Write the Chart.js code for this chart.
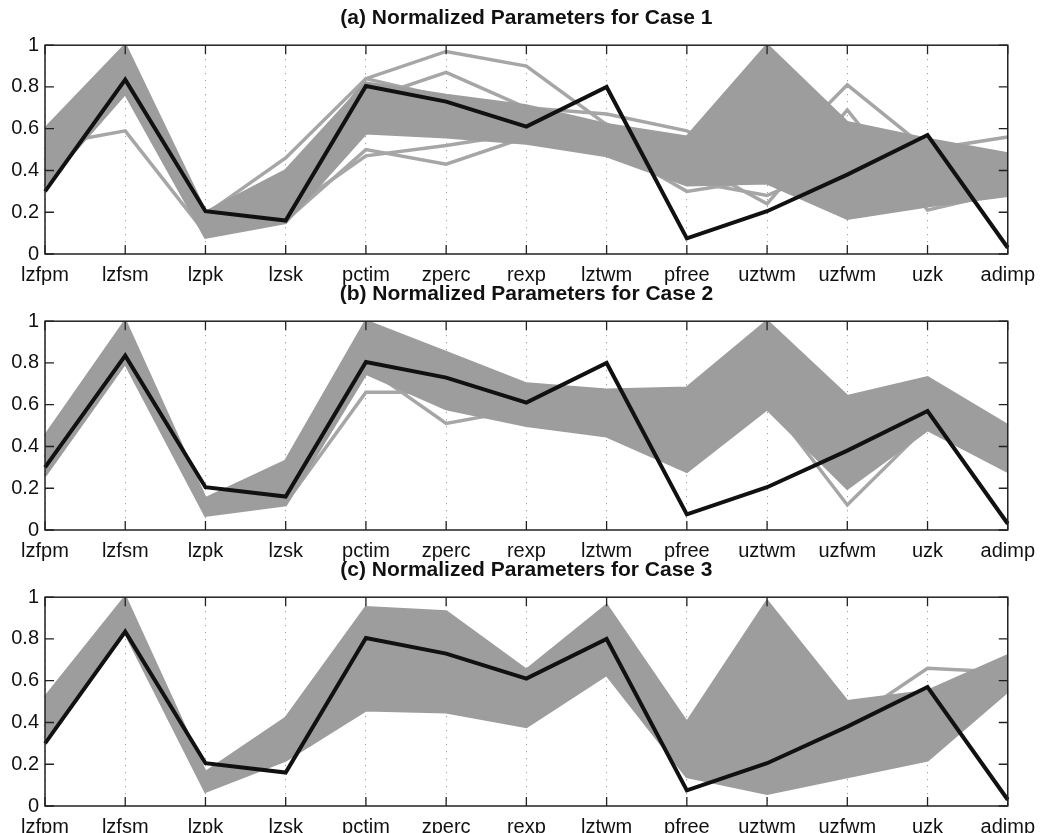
<!DOCTYPE html>
<html>
<head>
<meta charset="utf-8">
<script src="https://cdn.jsdelivr.net/npm/chart.js@4"></script>
<style>
  html, body { margin: 0; padding: 0; background: #fff; overflow: hidden; }
  #wrap { position: relative; width: 1044px; height: 833px; }
  canvas { position: absolute; left: 0; }
</style>
</head>
<body>
<div id="wrap">
  <canvas id="case1" width="1044" height="290" style="top:0px"></canvas>
  <canvas id="case2" width="1044" height="290" style="top:276px"></canvas>
  <canvas id="case3" width="1044" height="290" style="top:552px"></canvas>
</div>
<script>
// parameter names along the x axis
const params = ['lzfpm', 'lzfsm', 'lzpk', 'lzsk', 'pctim', 'zperc', 'rexp', 'lztwm', 'pfree', 'uztwm', 'uzfwm', 'uzk', 'adimp'];
const yTicks = [0, 0.2, 0.4, 0.6, 0.8, 1];

// black line (same in every panel)
const bestSet = [0.30, 0.835, 0.205, 0.16, 0.805, 0.73, 0.61, 0.80, 0.075, 0.205, 0.38, 0.57, 0.03];

const case1Upper = [0.60, 1.00, 0.20, 0.40, 0.82, 0.76, 0.71, 0.62, 0.56, 1.00, 0.63, 0.55, 0.48];
const case1Lower = [0.33, 0.77, 0.08, 0.15, 0.58, 0.56, 0.53, 0.47, 0.33, 0.34, 0.17, 0.23, 0.28];
const case1Stray = [
  [0.52, 0.59, 0.10, 0.16, 0.50, 0.43, 0.56, 0.50, 0.35, 0.28, 0.45, 0.40, 0.35],
  [0.45, 0.88, 0.15, 0.30, 0.84, 0.97, 0.90, 0.62, 0.50, 0.55, 0.60, 0.45, 0.40],
  [0.50, 0.90, 0.12, 0.22, 0.74, 0.87, 0.70, 0.67, 0.59, 0.42, 0.81, 0.50, 0.56],
  [0.55, 0.80, 0.19, 0.46, 0.84, 0.75, 0.65, 0.55, 0.45, 0.24, 0.69, 0.21, 0.30],
  [0.40, 0.85, 0.10, 0.20, 0.47, 0.52, 0.58, 0.52, 0.30, 0.36, 0.55, 0.30, 0.44]
];

const case2Upper = [0.45, 1.00, 0.15, 0.33, 1.00, 0.85, 0.70, 0.67, 0.68, 1.00, 0.64, 0.73, 0.50];
const case2Lower = [0.26, 0.80, 0.07, 0.12, 0.75, 0.58, 0.50, 0.45, 0.28, 0.58, 0.20, 0.48, 0.28];
const case2Stray = [
  [0.30, 0.82, 0.08, 0.13, 0.66, 0.66, 0.55, 0.66, 0.50, 0.62, 0.12, 0.50, 0.45],
  [0.35, 0.88, 0.10, 0.20, 0.78, 0.51, 0.58, 0.62, 0.55, 0.66, 0.58, 0.55, 0.40]
];

const case3Upper = [0.52, 1.00, 0.16, 0.42, 0.95, 0.93, 0.65, 0.96, 0.40, 0.98, 0.50, 0.55, 0.72];
const case3Lower = [0.33, 0.83, 0.07, 0.22, 0.46, 0.45, 0.38, 0.63, 0.14, 0.06, 0.14, 0.22, 0.55];
const case3Stray = [
  [0.38, 0.88, 0.10, 0.28, 0.55, 0.50, 0.45, 0.70, 0.30, 0.60, 0.40, 0.66, 0.64]
];

const FONT = "'Liberation Sans', Arial, Helvetica, sans-serif";
const cloudGrey = '#9d9d9d';
const strayGrey = '#a6a6a6';

// MATLAB-like box with inward tick marks
const boxPlugin = {
  id: 'box',
  afterDatasetsDraw(chart) {
    const { ctx, chartArea: a, scales } = chart;
    const tl = 9;
    ctx.save();
    ctx.strokeStyle = '#222';
    ctx.lineWidth = 1.5;
    ctx.strokeRect(a.left, a.top, a.right - a.left, a.bottom - a.top);
    ctx.lineWidth = 1.3;
    ctx.beginPath();
    scales.x.ticks.forEach((t, i) => {
      const x = scales.x.getPixelForTick(i);
      ctx.moveTo(x, a.bottom); ctx.lineTo(x, a.bottom - tl);
      ctx.moveTo(x, a.top); ctx.lineTo(x, a.top + tl);
    });
    yTicks.forEach(v => {
      const y = scales.y.getPixelForValue(v);
      ctx.moveTo(a.left, y); ctx.lineTo(a.left + tl, y);
      ctx.moveTo(a.right, y); ctx.lineTo(a.right - tl, y);
    });
    ctx.stroke();
    ctx.restore();
  }
};

function makePanel(id, title, upper, lower, strays) {
  const datasets = [];
  datasets.push({
    data: bestSet, borderColor: '#111', borderWidth: 4,
    pointRadius: 0, fill: false, order: 0, borderJoinStyle: 'miter'
  });
  // stray runs sit under the cloud, only the parts outside it show
  strays.forEach(s => datasets.push({
    data: s, borderColor: strayGrey, borderWidth: 3.5,
    pointRadius: 0, fill: false, order: 3
  }));
  datasets.push({
    data: lower, borderColor: cloudGrey, borderWidth: 3,
    pointRadius: 0, fill: false, order: 2
  });
  datasets.push({
    data: upper, borderColor: cloudGrey, borderWidth: 3,
    backgroundColor: cloudGrey, pointRadius: 0, fill: '-1', order: 2
  });

  new Chart(document.getElementById(id), {
    type: 'line',
    data: { labels: params, datasets: datasets },
    options: {
      responsive: false,
      animation: false,
      devicePixelRatio: 1,
      layout: { padding: { left: 0, right: 36, top: 0, bottom: 0 } },
      plugins: {
        legend: { display: false },
        tooltip: { enabled: false },
        title: {
          display: true,
          text: title,
          fullSize: false,
          color: '#111',
          font: { family: FONT, size: 21, weight: 'bold' },
          padding: { top: 6, bottom: 14 }
        }
      },
      scales: {
        x: {
          offset: false,
          grid: { color: '#8a8a8a', lineWidth: 1, drawTicks: false },
          border: { display: false, dash: [1, 6] },
          ticks: {
            color: '#111', padding: 9, autoSkip: false, maxRotation: 0,
            font: { family: FONT, size: 20 }
          },
          afterFit: s => { s.height = 36; }
        },
        y: {
          min: 0, max: 1,
          grid: { display: false, drawTicks: false },
          border: { display: false },
          afterBuildTicks: s => { s.ticks = yTicks.map(v => ({ value: v })); },
          ticks: {
            color: '#111', padding: 6,
            font: { family: FONT, size: 20 },
            callback: v => String(v)
          },
          afterFit: s => { s.width = 45; }
        }
      }
    },
    plugins: [boxPlugin]
  });
}

makePanel('case1', '(a) Normalized Parameters for Case 1', case1Upper, case1Lower, case1Stray);
makePanel('case2', '(b) Normalized Parameters for Case 2', case2Upper, case2Lower, case2Stray);
makePanel('case3', '(c) Normalized Parameters for Case 3', case3Upper, case3Lower, case3Stray);
</script>
</body>
</html>
